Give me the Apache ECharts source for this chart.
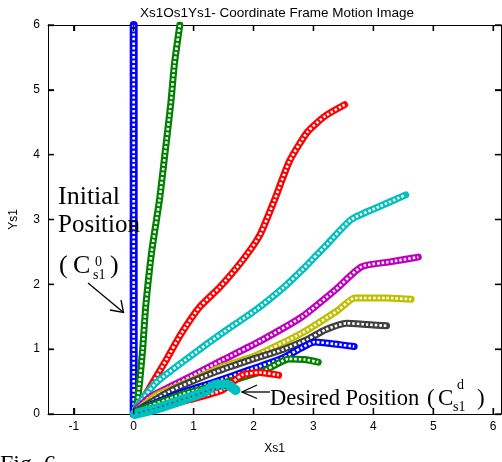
<!DOCTYPE html>
<html lang="en">
<head>
<meta charset="utf-8">
<title>Coordinate Frame Motion Image</title>
<script src="https://cdn.jsdelivr.net/npm/echarts@6/dist/echarts.min.js"></script>
<style>
  html, body { margin: 0; padding: 0; background: #fff; }
  #main { width: 502px; height: 462px; }
</style>
</head>
<body>
<div id="main"></div>
<script type="text/javascript">
// tick labels
let xTicks = [-1, 0, 1, 2, 3, 4, 5, 6];
let yTicks = [0, 1, 2, 3, 4, 5, 6];
let xRange = [-1.43, 6.13];
let yRange = [0, 6];

// trajectories [x, y], in plotting order
let trajBlue1 = [[0, 0], [0, 1], [0, 2], [0, 3], [0, 4], [0, 5], [0, 6]];
let trajGreen1 = [[0.05, 0.1], [0.1, 0.5], [0.15, 1.0], [0.2, 1.65], [0.3, 2.5], [0.43, 3.3], [0.52, 4.0], [0.62, 4.8], [0.68, 5.4], [0.77, 6.0]];
let trajRed1 = [[0.05, 0.05], [0.2, 0.3], [0.54, 0.83], [0.8, 1.25], [1.1, 1.65], [1.43, 1.95], [1.8, 2.35], [2.1, 2.75], [2.35, 3.3], [2.6, 3.9], [2.9, 4.35], [3.2, 4.6], [3.52, 4.77]];
let trajCyan1 = [[0.04, 0.1], [0.37, 0.48], [0.93, 0.88], [1.48, 1.25], [2.03, 1.6], [2.5, 1.95], [2.81, 2.22], [3.25, 2.64], [3.63, 3.0], [4.1, 3.2], [4.54, 3.38]];
let trajMagenta1 = [[0.05, 0.08], [0.27, 0.26], [0.93, 0.57], [1.48, 0.83], [2.14, 1.14], [2.81, 1.5], [3.36, 1.91], [3.8, 2.27], [4.3, 2.35], [4.75, 2.42]];
let trajYellow1 = [[0.05, 0.05], [0.4, 0.3], [0.93, 0.5], [1.48, 0.73], [2.03, 0.9], [2.81, 1.25], [3.41, 1.6], [3.69, 1.79], [4.2, 1.79], [4.63, 1.77]];
let trajBlack1 = [[0.05, 0.05], [0.6, 0.35], [1.37, 0.65], [2.0, 0.85], [2.48, 0.99], [2.9, 1.15], [3.2, 1.3], [3.55, 1.4], [3.9, 1.38], [4.22, 1.36]];
let trajBlue2 = [[0.05, 0.05], [0.7, 0.3], [1.37, 0.5], [1.93, 0.68], [2.48, 0.86], [2.8, 1.02], [3.02, 1.11], [3.35, 1.08], [3.68, 1.04]];
let trajGreen2 = [[0.05, 0.05], [0.8, 0.3], [1.65, 0.52], [2.2, 0.68], [2.59, 0.85], [2.85, 0.84], [3.08, 0.8]];
let trajRed2 = [[0.05, 0.03], [0.5, 0.12], [0.93, 0.22], [1.48, 0.37], [1.81, 0.6], [2.1, 0.64], [2.42, 0.6]];
let trajCyan2 = [[0.02, 0.0], [0.37, 0.08], [0.82, 0.22], [1.2, 0.35], [1.37, 0.45], [1.55, 0.45], [1.7, 0.37]];
let trajDots = [[0.0, 0.0], [0.4, 0.1], [0.9, 0.25], [1.3, 0.38], [1.6, 0.4]];

let trajList = [
    { data: trajBlue1, color: '#0000ff', width: 8 },
    { data: trajGreen1, color: '#008000', width: 7 },
    { data: trajRed1, color: '#ff0000', width: 7 },
    { data: trajCyan1, color: '#00bfbf', width: 7 },
    { data: trajMagenta1, color: '#bf00bf', width: 7 },
    { data: trajYellow1, color: '#bfbf00', width: 7 },
    { data: trajBlack1, color: '#404040', width: 7 },
    { data: trajBlue2, color: '#0000ff', width: 7 },
    { data: trajGreen2, color: '#008000', width: 7 },
    { data: trajRed2, color: '#ff0000', width: 7 },
    { data: trajCyan2, color: '#00bfbf', width: 10, filled: true }
];

let seriesList = [];
trajList.forEach((t) => {
    // ring of markers: thick coloured band
    seriesList.push({
        type: 'line', data: t.data, symbol: 'none', silent: true, smooth: 0.2,
        lineStyle: { color: t.color, width: t.width, cap: 'round', join: 'round' }
    });
    // hollow centres of the markers
    if (!t.filled) {
        seriesList.push({
            type: 'line', data: t.data, symbol: 'none', silent: true, smooth: 0.2,
            lineStyle: { color: '#ffffff', width: 2.6, type: [2.5, 2] }
        });
    }
});
seriesList.push({
    type: 'line', data: trajDots, symbol: 'none', silent: true,
    lineStyle: { color: '#000000', width: 1.2, type: [1, 4] }
});

const serif = '"Liberation Serif", "Times New Roman", serif';
const sans = '"Liberation Sans", Arial, sans-serif';

function txt(x, y, s, size) {
    return {
        type: 'text', x: x, y: y, z: 100,
        style: { text: s, font: size + 'px ' + serif, fill: '#000', verticalAlign: 'middle' }
    };
}

let chart = echarts.init(document.getElementById('main'));

const lineBlack = { show: true, onZero: false, lineStyle: { color: '#000' } };

let annotations = [
    txt(58, 197, 'Initial', 26),
    txt(58, 225, 'Position', 25),
    txt(59, 266, '(', 26),
    txt(73, 266, 'C', 26),
    txt(95, 262, '0', 14),
    txt(93, 275, 's1', 14),
    txt(110, 266, ')', 26),
    {
        type: 'line', z: 100,
        shape: { x1: 88, y1: 283, x2: 123, y2: 312 },
        style: { stroke: '#000', lineWidth: 1.3 }
    },
    {
        type: 'polyline', z: 100,
        shape: { points: [[110, 310], [123.5, 312.5], [121, 300]] },
        style: { stroke: '#000', lineWidth: 1.3, fill: null }
    },
    txt(270, 399, 'Desired Position', 22.5),
    txt(427, 399, '(', 23),
    txt(438, 399, 'C', 23),
    txt(457, 385, 'd', 14),
    txt(453, 407, 's1', 14),
    txt(477, 399, ')', 23),
    {
        type: 'line', z: 100,
        shape: { x1: 242, y1: 392, x2: 270, y2: 392 },
        style: { stroke: '#000', lineWidth: 1.3 }
    },
    {
        type: 'polyline', z: 100,
        shape: { points: [[257, 385], [242, 392], [257, 398.5]] },
        style: { stroke: '#000', lineWidth: 1.3, fill: null }
    },
    txt(0, 465, 'Fig. 6', 24)
];

let option = {
    animation: false,
    title: {
        text: 'Xs1Os1Ys1- Coordinate Frame Motion Image',
        left: 272, top: 1, textAlign: 'center',
        textStyle: { fontFamily: sans, fontSize: 13.5, fontWeight: 'normal', color: '#000' }
    },
    grid: { left: 44, top: 25, right: 1, bottom: 48 },
    xAxis: [
        {
            type: 'value', position: 'bottom', min: xRange[0], max: xRange[1],
            axisLine: Object.assign({}, lineBlack),
            axisTick: { show: true, inside: true, length: 6, customValues: xTicks, lineStyle: { color: '#000', width: 1.3 } },
            axisLabel: { customValues: xTicks, color: '#000', fontFamily: sans, fontSize: 12, margin: 7 },
            splitLine: { show: false },
            name: 'Xs1', nameLocation: 'middle', nameGap: 29,
            nameTextStyle: { color: '#000', fontFamily: sans, fontSize: 12 }
        },
        {
            type: 'value', position: 'top', min: xRange[0], max: xRange[1],
            axisLine: Object.assign({}, lineBlack),
            axisTick: { show: true, inside: true, length: 6, customValues: xTicks, lineStyle: { color: '#000', width: 1.3 } },
            axisLabel: { show: false },
            splitLine: { show: false }
        }
    ],
    yAxis: [
        {
            type: 'value', position: 'left', min: yRange[0], max: yRange[1],
            axisLine: Object.assign({}, lineBlack),
            axisTick: { show: true, inside: true, length: 6, customValues: yTicks, lineStyle: { color: '#000', width: 1.3 } },
            axisLabel: { customValues: yTicks, color: '#000', fontFamily: sans, fontSize: 12, margin: 8 },
            splitLine: { show: false },
            name: 'Ys1', nameLocation: 'middle', nameGap: 28,
            nameTextStyle: { color: '#000', fontFamily: sans, fontSize: 12 }
        },
        {
            type: 'value', position: 'right', min: yRange[0], max: yRange[1],
            axisLine: Object.assign({}, lineBlack),
            axisTick: { show: true, inside: true, length: 6, customValues: yTicks, lineStyle: { color: '#000', width: 1.3 } },
            axisLabel: { show: false },
            splitLine: { show: false }
        }
    ],
    series: seriesList,
    graphic: annotations
};

chart.setOption(option);

// inward ticks on all four sides, placed through the grid's own scales
const tickLen = 6;
let tickMarks = [];
function tickLine(p, dx, dy) {
    tickMarks.push({
        type: 'line', z: 100,
        shape: { x1: p[0], y1: p[1], x2: p[0] + dx, y2: p[1] + dy },
        style: { stroke: '#000', lineWidth: 1.3 }
    });
}
xTicks.forEach((v) => {
    tickLine(chart.convertToPixel({ gridIndex: 0 }, [v, yRange[0]]), 0, -tickLen);
    tickLine(chart.convertToPixel({ gridIndex: 0 }, [v, yRange[1]]), 0, tickLen);
});
yTicks.forEach((v) => {
    tickLine(chart.convertToPixel({ gridIndex: 0 }, [xRange[0], v]), tickLen, 0);
    tickLine(chart.convertToPixel({ gridIndex: 0 }, [xRange[1], v]), -tickLen, 0);
});
chart.setOption({ graphic: annotations.concat(tickMarks) });
</script>
</body>
</html>
